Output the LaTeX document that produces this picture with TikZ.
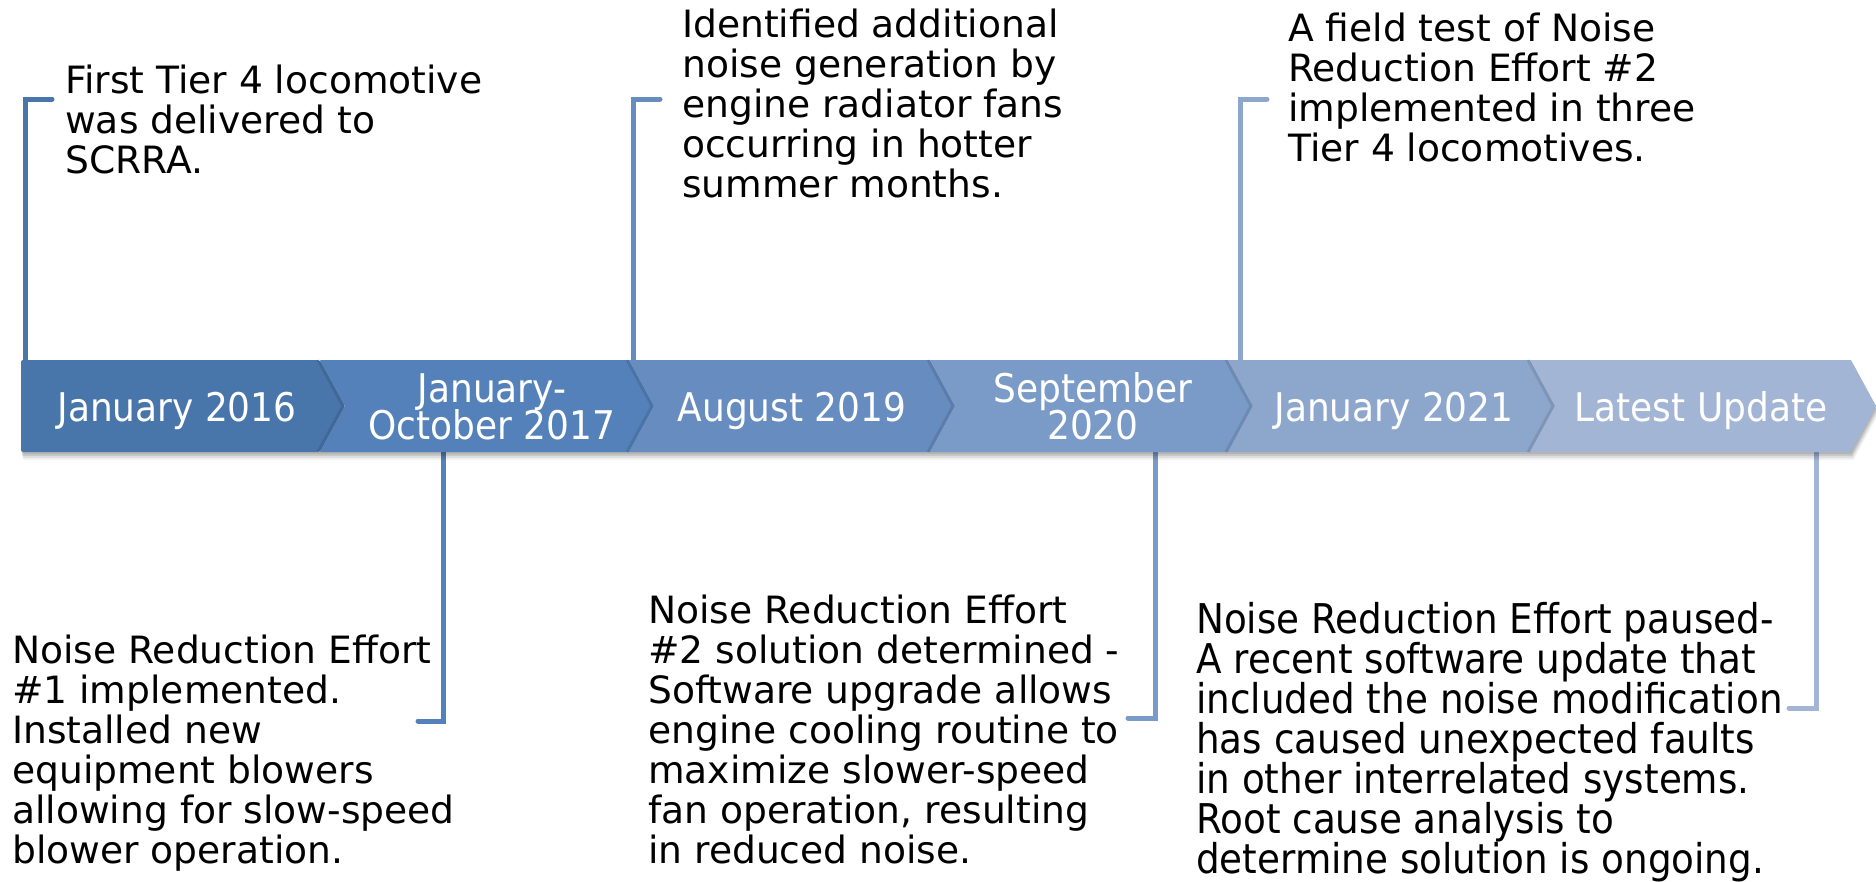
\documentclass[tikz,border=0pt]{standalone}
\usepackage{fontspec}
\setmainfont{DejaVu Sans}
\newfontfamily\condf[FakeStretch=0.91]{DejaVu Sans}
\newcommand\blk[1]{\vtop{\baselineskip=40pt\lineskiplimit=-100pt\lineskip=0pt\halign{##\hfil\cr#1\crcr}}}
\newcommand\lbl[1]{\vtop{\baselineskip=37.5pt\lineskiplimit=-100pt\lineskip=0pt\halign{\hfil##\hfil\cr#1\crcr}}}
\definecolor{c1}{HTML}{4875AA}
\definecolor{c2}{HTML}{5481B9}
\definecolor{c3}{HTML}{678CC0}
\definecolor{c4}{HTML}{7A9BC7}
\definecolor{c5}{HTML}{8DA7CC}
\definecolor{c6}{HTML}{A2B5D5}
\tikzset{
  txt/.style={inner sep=0pt, anchor=base west, text=black, font=\fontsize{37.6}{40}\selectfont},
  ctxt/.style={inner sep=0pt, anchor=base west, text=black, font=\condf\fontsize{41}{40}\selectfont},
  datelbl/.style={inner sep=0pt, anchor=base, text=white, font=\condf\fontsize{39.5}{36}\selectfont},
  brk/.style={line width=5pt, line cap=round},
}
\begin{document}
\begin{tikzpicture}[x=1pt, y=-1pt]
\useasboundingbox (0,0) rectangle (1876,881);
\def\T{360}\def\B{452}\def\M{406}
% bracket end coordinates
\coordinate (a1) at (52,99);  \coordinate (a1c) at (25,99);  \coordinate (a1b) at (25,\T);
\coordinate (a3) at (660,99); \coordinate (a3c) at (633,99); \coordinate (a3b) at (633,\T);
\coordinate (a5) at (1267,99);\coordinate (a5c) at (1240,99);\coordinate (a5b) at (1240,\T);
\coordinate (a2) at (418,721); \coordinate (a2c) at (443,721); \coordinate (a2b) at (443,\B);
\coordinate (a4) at (1128,718);\coordinate (a4c) at (1155,718);\coordinate (a4b) at (1155,\B);
\coordinate (a6) at (1789,708);\coordinate (a6c) at (1816,708);\coordinate (a6b) at (1816,\B);
\draw[brk, c1] (a1) -- (a1c) -- (a1b);
\draw[brk, c3] (a3) -- (a3c) -- (a3b);
\draw[brk, c5] (a5) -- (a5c) -- (a5b);
\draw[brk, c2] (a2) -- (a2c) -- (a2b);
\draw[brk, c4] (a4) -- (a4c) -- (a4b);
\draw[brk, c6] (a6) -- (a6c) -- (a6b);
% band shadow
\foreach \s/\o in {2/0.10, 4/0.10, 6/0.08, 8/0.05}{
  \fill[black, opacity=\o] (21+\s*0.3,\T+\s) -- (1851+\s*0.3,\T+\s) -- (1876+\s*0.3,\M+\s) -- (1851+\s*0.3,\B+\s) -- (21+\s*0.3,\B+\s) -- cycle;
}
% segments
\fill[c1, rounded corners=2pt] (21,\T) -- (320,\T) -- (345,\M) -- (320,\B) -- (21,\B) -- cycle;
\fill[c2] (320,\T) -- (629,\T) -- (654,\M) -- (629,\B) -- (320,\B) -- (345,\M) -- cycle;
\fill[c3] (629,\T) -- (930,\T) -- (955,\M) -- (930,\B) -- (629,\B) -- (654,\M) -- cycle;
\fill[c4] (930,\T) -- (1228,\T) -- (1253,\M) -- (1228,\B) -- (930,\B) -- (955,\M) -- cycle;
\fill[c5] (1228,\T) -- (1530,\T) -- (1555,\M) -- (1530,\B) -- (1228,\B) -- (1253,\M) -- cycle;
\fill[c6] (1530,\T) -- (1851,\T) -- (1876,\M) -- (1851,\B) -- (1530,\B) -- (1555,\M) -- cycle;
% notch shadows
\foreach \L in {320,629,930,1228,1530}{
  \draw[black, opacity=0.10, line width=3pt] (\L-2,\T) -- (\L+23,\M) -- (\L-2,\B);
}
% date labels
\node[datelbl] (d1) at (177,421) {January 2016};
\node[datelbl] (d2) at (492,402) {\lbl{January-\cr October 2017}};
\node[datelbl] (d3) at (792,421) {August 2019};
\node[datelbl] (d4) at (1093,402) {\lbl{September\cr 2020}};
\node[datelbl] (d5) at (1394,421) {January 2021};
\node[datelbl] (d6) at (1701,421) {Latest Update};
% descriptions
\node[txt] (t1) at (65,93) {\blk{First Tier 4 locomotive\cr was delivered to\cr SCRRA.}};
\node[txt] (t3) at (682,37) {\blk{Identified additional\cr noise generation by\cr engine radiator fans\cr occurring in hotter\cr summer months.}};
\node[txt] (t5) at (1288,41) {\blk{A field test of Noise\cr Reduction Effort \#2\cr implemented in three\cr Tier 4 locomotives.}};
\node[txt] (t2) at (12,663) {\blk{Noise Reduction Effort\cr \#1 implemented.\cr Installed new\cr equipment blowers\cr allowing for slow-speed\cr blower operation.}};
\node[txt] (t4) at (648,623) {\blk{Noise Reduction Effort\cr \#2 solution determined -\cr Software upgrade allows\cr engine cooling routine to\cr maximize slower-speed\cr fan operation, resulting\cr in reduced noise.}};
\node[ctxt] (t6) at (1196,633) {\blk{Noise Reduction Effort paused-\cr A recent software update that\cr included the noise modification\cr has caused unexpected faults\cr in other interrelated systems.\cr Root cause analysis to\cr determine solution is ongoing.}};
\end{tikzpicture}
\end{document}
